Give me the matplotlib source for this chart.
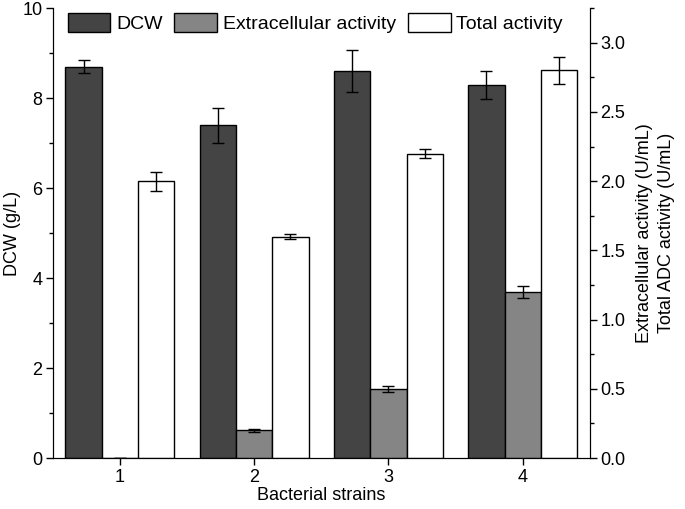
import numpy as np
import matplotlib
matplotlib.use("Agg")
import matplotlib.pyplot as plt
from matplotlib.ticker import MultipleLocator

plt.rcParams['font.family'] = ['Liberation Sans', 'DejaVu Sans']
plt.rcParams['font.size'] = 13

strains = [1, 2, 3, 4]
dcw = [8.7, 7.4, 8.6, 8.3]
dcw_err = [0.15, 0.39, 0.47, 0.31]
extra = [0.0, 0.2, 0.5, 1.2]
extra_err = [0.0, 0.01, 0.02, 0.04]
total = [2.0, 1.6, 2.2, 2.8]
total_err = [0.07, 0.02, 0.03, 0.1]

x = np.array(strains, dtype=float)
w = 0.27
ekw = dict(ecolor='black', elinewidth=1, capsize=4, capthick=1)

fig = plt.figure(figsize=(6.85, 5.09), dpi=100)
ax = fig.add_axes([0.077, 0.1, 0.784, 0.884])
ax2 = ax.twinx()

b1 = ax.bar(x - w, dcw, w, yerr=dcw_err, color='#444444', edgecolor='black',
            linewidth=1, error_kw=ekw, label='DCW')
b2 = ax2.bar(x, extra, w, yerr=extra_err, color='#858585', edgecolor='black',
             linewidth=1, error_kw=ekw, label='Extracellular activity')
b3 = ax2.bar(x + w, total, w, yerr=total_err, color='white', edgecolor='black',
             linewidth=1, error_kw=ekw, label='Total activity')

ax.set_xlim(0.5, 4.5)
ax.set_ylim(0, 10)
ax2.set_ylim(0, 3.25)
ax.set_xticks(strains)
ax.yaxis.set_major_locator(MultipleLocator(2))
ax.yaxis.set_minor_locator(MultipleLocator(1))
ax2.yaxis.set_major_locator(MultipleLocator(0.5))
ax2.yaxis.set_minor_locator(MultipleLocator(0.25))
ax2.yaxis.set_major_formatter(matplotlib.ticker.FormatStrFormatter('%.1f'))

for a in (ax, ax2):
    a.spines['top'].set_visible(False)
    a.tick_params(which='major', direction='out', length=5, width=1, pad=2.5)
    a.tick_params(which='minor', direction='out', length=3, width=1)

ax.set_xlabel('Bacterial strains', labelpad=1)
ax.set_ylabel('DCW (g/L)', labelpad=1)
ax2.set_ylabel('Extracellular activity (U/mL)\nTotal ADC activity (U/mL)',
               labelpad=8, linespacing=1.35)

ax.legend([b1, b2, b3], ['DCW', 'Extracellular activity', 'Total activity'],
          ncol=3, frameon=False, loc='upper left', bbox_to_anchor=(0.006, 1.015),
          fontsize=14, handlelength=2.2, handleheight=1.13, handletextpad=0.3,
          columnspacing=0.6, borderaxespad=0.2)

fig.savefig('out.png', dpi=100)
